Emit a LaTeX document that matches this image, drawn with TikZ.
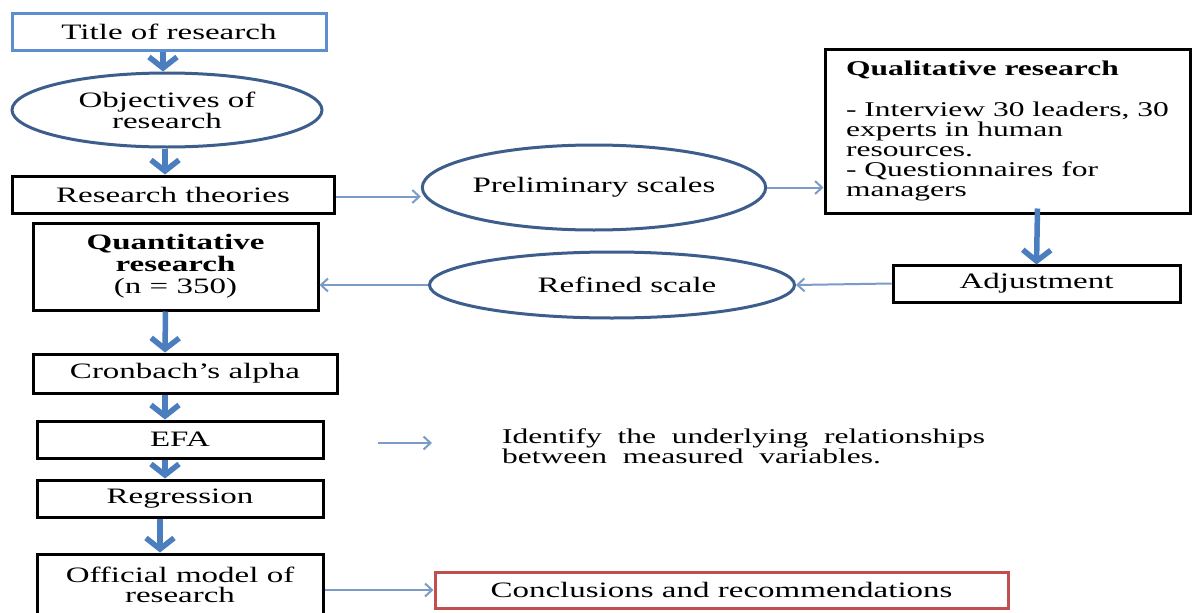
\documentclass[tikz,border=0pt]{standalone}
\usepackage{fontspec}
\setmainfont{Liberation Serif}[FakeStretch=1.5]
\usetikzlibrary{shapes.geometric,arrows.meta}
\definecolor{thickblue}{HTML}{4A7EBF}
\definecolor{thinblue}{HTML}{7A9CC6}
\definecolor{ellblue}{HTML}{3D5E8C}
\definecolor{titleblue}{HTML}{5B8FD0}
\definecolor{conred}{HTML}{C0504D}
\tikzset{
  box/.style={draw=black, line width=3pt, rectangle, inner sep=0pt, font=\fontsize{22}{21}\selectfont, align=center},
  oval/.style={draw=ellblue, line width=3pt, ellipse, inner sep=0pt, font=\fontsize{22}{21}\selectfont, align=center},
  bigarrow/.style={draw=thickblue, line width=5.5pt, -{Straight Barb[length=11pt,width=28pt,line width=5.5pt]}},
  thinarrow/.style={draw=thinblue, line width=2pt, -{Straight Barb[length=7pt,width=13pt,line width=2pt]}},
}
\begin{document}
\begin{tikzpicture}[x=1pt,y=-1pt]
\useasboundingbox (0,0) rectangle (1194,613);
\fill[white] (0,0) rectangle (1194,613);

\node[box, draw=titleblue, line width=3pt, minimum width=314pt, minimum height=37pt] (title) at (169,31.5) {Title of research};
\node[oval, minimum width=310pt, minimum height=74pt] (obj) at (167,110) {Objectives of\\research};
\node[box, minimum width=322pt, minimum height=37pt] (theo) at (173,194.5) {Research theories};
\node[oval, minimum width=334pt, minimum height=85pt] (prel) at (594,187.5) {Preliminary scales};
\node[box, minimum width=365pt, minimum height=164pt, align=left, font=\fontsize{21}{20}\selectfont] (qual) at (1007.5,131)
  {\textbf{Qualitative research}\\[21pt]- Interview 30 leaders, 30\\experts in human\\resources.\\- Questionnaires for\\managers};
\node[box, minimum width=287pt, minimum height=37pt] (adj) at (1036.5,283.5) {Adjustment};
\node[oval, minimum width=365pt, minimum height=66pt] (ref) at (612,285) {\hspace*{30pt}Refined scale};
\node[box, minimum width=285pt, minimum height=87pt, font=\fontsize{22}{22}\selectfont] (quant) at (175.5,266.5)
  {\textbf{Quantitative}\\\textbf{research}\\(n = 350)};
\node[box, minimum width=304pt, minimum height=39pt] (cron) at (185,373.5) {Cronbach's alpha};
\node[box, minimum width=286pt, minimum height=37pt] (efa) at (180,439.5) {EFA};
\node[box, minimum width=286pt, minimum height=37pt] (reg) at (180,498.5) {Regression};
\node[box, minimum width=286pt, minimum height=62pt, font=\fontsize{22}{20}\selectfont] (off) at (180,585) {Official model of\\research};
\node[box, draw=conred, line width=3pt, minimum width=573pt, minimum height=36pt] (conc) at (721.5,590) {Conclusions and recommendations};
\node[anchor=west, align=left, inner sep=0pt, font=\fontsize{21}{18}\selectfont] (ident) at (502,446)
  {Identify\ \ the\ \ underlying\ \ relationships\\between\ \ measured\ \ variables.};
\coordinate (e1) at (378,443);
\coordinate (e2) at (432,443);

% thick arrows
\draw[bigarrow] ([xshift=-6pt]title.south) -- ([xshift=-4pt]obj.north);
\draw[bigarrow] ([xshift=-2pt]obj.south) -- ([xshift=-8pt]theo.north);
\draw[bigarrow] ([xshift=-10pt]quant.south) -- ([xshift=-20pt]cron.north);
\draw[bigarrow] ([xshift=-20pt]cron.south) -- ([xshift=-15pt]efa.north);
\draw[bigarrow] ([xshift=-15pt]efa.south) -- ([xshift=-15pt]reg.north);
\draw[bigarrow] ([xshift=-20pt]reg.south) -- ([xshift=-20pt]off.north);
\draw[bigarrow] ([xshift=30pt,yshift=6pt]qual.south) -- ([yshift=-1pt]adj.north);

% thin arrows
\draw[thinarrow] ([yshift=-2pt]theo.east) -- ([yshift=-2pt]theo.east -| prel.west);
\draw[thinarrow] (prel.east) -- (prel.east -| qual.west);
\draw[thinarrow] (adj.west) -- (ref.east);
\draw[thinarrow] (ref.west) -- (ref.west -| quant.east);
\draw[thinarrow] (e1) -- (e2);
\draw[thinarrow] (off.east |- conc.west) -- (conc.west);
\end{tikzpicture}
\end{document}
